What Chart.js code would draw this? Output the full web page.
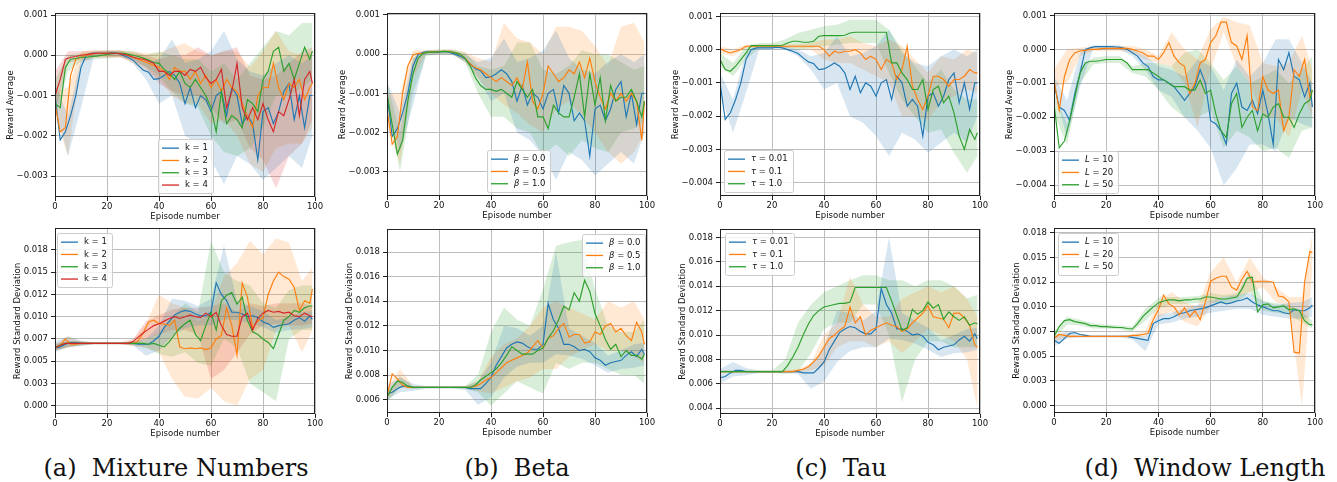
<!DOCTYPE html>
<html>
<head>
<meta charset="utf-8">
<script src="https://cdn.jsdelivr.net/npm/chart.js@4.4.1/dist/chart.umd.min.js"></script>
<style>
  html, body { margin: 0; padding: 0; background: #fff; }
  body { width: 1337px; height: 482px; position: relative; overflow: hidden; }
  canvas { position: absolute; }
  .cap { position: absolute; top: 454px; font-family: "DejaVu Serif", serif; font-size: 24px; line-height: 28px;
         color: #111; white-space: pre; transform: translateX(-50%); }
</style>
</head>
<body>
<div class="cap" style="left:176px">(a)  Mixture Numbers</div>
<div class="cap" style="left:517px">(b)  Beta</div>
<div class="cap" style="left:841px">(c)  Tau</div>
<div class="cap" style="left:1205px">(d)  Window Length</div>
<script>
// all rewards in units of 1e-3
const EP = [0,2,4,6,8,10,12,14,16,18,20,22,24,26,28,30,32,34,36,38,40,42,44,46,48,
  50,52,54,56,58,60,62,64,66,68,70,72,74,76,78,80,82,84,86,88,90,92,94,96,98,99];
const BAND_EP = [0,5,10,15,20,25,30,35,40,45,50,55,60,65,70,75,80,85,90,95,99];

const EP_TICKS = [0, 20, 40, 60, 80, 100];
const AVG_TICKS_3 = [-3, -2, -1, 0, 1];
const AVG_TICKS_4 = [-4, -3, -2, -1, 0, 1];
const STD_TICKS_Q = [0, 2.5, 5, 7.5, 10, 12.5, 15, 17.5];
const STD_LABELS_Q = ['0.000', '0.003', '0.005', '0.007', '0.010', '0.012', '0.015', '0.018'];
const STD_TICKS_B = [6, 8, 10, 12, 14, 16, 18];
const STD_TICKS_C = [4, 6, 8, 10, 12, 14, 16, 18];

const K_LABELS = ['1', '2', '3', '4'];
const BETA_LABELS = ['0.0', '0.5', '1.0'];
const TAU_LABELS = ['0.01', '0.1', '1.0'];
const L_LABELS = ['10', '20', '50'];

// ---- reward average (top row) ----
const BASE_AVG = [-1.0,-2.1,-1.9,-1.5,-1.0,-0.3,0.0,0.05,0.05,0.05,
  0.05,0.07,0.05,0.0,-0.05,-0.12,-0.25,-0.37,-0.42,-0.6,
  -0.58,-0.5,-0.4,-0.5,-0.7,-1.2,-0.8,-1.3,-1.0,-1.1,
  -1.4,-1.0,-0.9,-1.5,-0.8,-1.0,-1.7,-1.5,-1.7,-2.6,
  -1.4,-1.3,-1.7,-1.4,-0.9,-0.7,-1.6,-1.0,-1.8,-1.0,-1.0];
const BASE_AVG_LO = [-1.3,-2.5,-1.3,-0.02,0.0,0.0,-0.2,-0.6,-1.2,-1.0,-2.0,-2.2,-2.6,-3.2,-2.5,-2.7,-3.1,-2.8,-2.5,-2.8,-2.0];
const BASE_AVG_HI = [-0.7,-1.5,-0.1,0.1,0.1,0.1,0.0,-0.2,-0.1,0.4,-0.2,-0.1,0.1,0.6,-0.1,-0.4,-0.5,-0.2,0.0,-0.2,0.0];

const K2_AVG = [-1.2,-1.9,-1.8,-0.5,-0.1,-0.05,0.0,0.03,0.05,0.05,
  0.05,0.05,0.05,0.03,0.0,-0.05,-0.1,-0.15,-0.2,-0.25,
  -0.3,-0.4,-0.6,-0.3,-0.4,-0.4,-0.6,-0.4,-0.7,-0.5,
  -0.8,-0.6,-0.9,-0.6,-0.8,-0.9,-1.2,-1.5,-1.8,-1.0,
  -0.8,-0.8,-0.2,-0.8,-1.1,-0.7,-0.8,-0.6,-1.1,-0.8,-0.7];
const K2_AVG_LO = [-1.5,-2.5,-0.2,-0.05,-0.05,-0.05,-0.2,-0.4,-0.6,-1.0,-1.2,-1.2,-1.7,-1.6,-2.0,-2.7,-2.9,-2.3,-2.2,-2.2,-1.8];
const K2_AVG_HI = [-0.9,-0.8,0.1,0.12,0.12,0.12,0.1,0.05,0.05,0.2,0.3,0.1,0.0,0.1,0.1,-0.3,0.1,0.6,0.1,0.0,0.1];

const K3_AVG = [-1.2,-1.3,-0.3,-0.1,-0.08,-0.05,-0.05,-0.03,-0.02,0.0,
  0.02,0.04,0.05,0.05,0.03,0.0,-0.03,-0.07,-0.12,-0.18,
  -0.2,-0.35,-0.45,-0.6,-0.4,-0.7,-0.8,-0.6,-0.8,-1.0,
  -1.3,-1.9,-0.9,-1.7,-1.5,-1.6,-1.8,-1.1,-1.2,-1.4,
  -0.6,-0.4,0.1,0.2,-0.4,-0.2,-0.6,-0.2,0.2,-0.1,0.1];
const K3_AVG_LO = [-1.6,-0.4,-0.15,-0.1,-0.08,-0.05,-0.1,-0.3,-0.5,-0.9,-1.2,-1.3,-2.0,-2.4,-2.5,-2.3,-1.8,-1.0,-1.0,-0.8,-0.6];
const K3_AVG_HI = [-0.6,0.0,0.05,0.08,0.12,0.12,0.1,0.0,0.1,0.0,-0.1,-0.1,-0.4,-0.2,-0.6,-0.2,0.2,0.6,0.5,0.8,0.8];

const K4_AVG = [-1.0,-0.6,-0.1,-0.05,-0.03,0.0,0.02,0.04,0.05,0.05,
  0.05,0.05,0.05,0.03,0.0,-0.05,-0.08,-0.1,-0.15,-0.2,
  -0.4,-0.4,-0.5,-0.4,-0.4,-0.5,-0.35,-0.4,-0.3,-0.55,
  -0.7,-0.6,-0.35,-1.3,-0.9,-0.2,-1.3,-1.6,-1.3,-1.6,
  -1.2,-1.6,-1.9,-1.4,-1.5,-1.1,-0.6,-1.5,-0.6,-0.4,-0.7];
const K4_AVG_LO = [-1.4,-0.2,-0.1,-0.05,-0.05,-0.05,-0.15,-0.3,-0.7,-0.9,-1.0,-1.0,-1.3,-1.7,-1.6,-2.3,-2.6,-3.3,-2.5,-2.2,-1.6];
const K4_AVG_HI = [-0.4,0.1,0.1,0.12,0.12,0.12,0.05,0.0,-0.1,0.0,0.0,0.2,0.0,0.1,0.2,-0.5,-0.6,-0.5,-0.2,0.1,0.2];

const BETA05_AVG = [-1.4,-2.3,-2.1,-1.0,-0.3,-0.02,0.02,0.03,0.05,0.06,
  0.06,0.07,0.07,0.04,0.0,-0.1,-0.25,-0.35,-0.4,-0.5,
  -0.6,-0.7,-0.6,-0.7,-0.8,-0.6,-0.9,-0.2,-1.2,-1.4,
  -1.0,-0.3,-0.5,-0.7,-0.6,-0.4,-0.5,-0.2,-0.6,-0.1,
  -0.7,-1.1,-1.4,-1.0,-1.2,-1.0,-1.2,-1.0,-1.2,-2.2,-1.2];
const BETA05_AVG_LO = [-1.8,-2.8,-0.6,0.0,0.0,0.0,-0.2,-0.6,-1.0,-1.3,-1.5,-1.8,-2.0,-1.4,-1.2,-1.6,-2.0,-2.5,-2.8,-2.5,-2.0];
const BETA05_AVG_HI = [-1.0,-1.0,0.1,0.1,0.12,0.12,0.05,-0.1,-0.2,0.8,0.4,0.3,0.0,0.7,0.7,0.6,0.2,-0.3,0.7,0.8,0.3];

const BETA10_AVG = [-1.0,-1.8,-2.55,-2.2,-1.2,-0.5,-0.1,0.02,0.05,0.05,
  0.06,0.07,0.06,0.04,0.0,-0.1,-0.3,-0.6,-0.8,-0.9,
  -0.9,-0.95,-0.9,-1.0,-1.1,-0.7,-0.9,-1.1,-0.9,-1.6,
  -1.6,-1.9,-1.3,-1.5,-1.6,-1.6,-1.1,-0.5,-1.6,-0.5,
  -1.3,-0.6,-1.7,-0.8,-1.2,-1.1,-1.1,-0.9,-1.2,-1.6,-1.2];
const BETA10_AVG_LO = [-1.3,-3.0,-1.0,-0.05,0.0,0.0,-0.2,-1.0,-1.6,-1.6,-1.9,-2.0,-2.6,-2.3,-2.6,-2.2,-2.4,-2.5,-2.0,-1.9,-1.7];
const BETA10_AVG_HI = [-0.7,-2.0,-0.1,0.1,0.12,0.12,0.05,-0.3,-0.4,-0.3,0.3,0.3,-0.4,-0.5,-0.3,0.1,0.0,0.0,-0.2,-0.4,-0.3];

const TAU01_AVG = [0.03,-0.05,-0.1,-0.05,0.0,0.1,0.1,0.1,0.1,0.1,
  0.1,0.1,0.1,0.1,0.1,0.1,0.1,0.1,0.1,0.1,
  0.0,-0.2,-0.05,-0.1,-0.05,-0.05,0.0,-0.1,-0.3,-0.2,
  -0.3,-0.6,-0.3,-0.4,-0.9,-0.6,0.1,-1.1,-1.5,-1.8,
  -1.4,-0.8,-0.8,-0.9,-1.1,-0.9,-0.9,-0.8,-0.6,-0.7,-0.7];
const TAU01_AVG_LO = [-0.1,-0.2,0.05,0.05,0.05,0.05,0.05,0.0,-0.3,-0.4,-0.4,-0.6,-0.8,-1.0,-2.0,-2.0,-2.1,-1.6,-1.4,-1.2,-1.3];
const TAU01_AVG_HI = [0.1,0.0,0.15,0.15,0.15,0.15,0.15,0.2,0.3,0.3,0.4,0.2,0.1,0.3,0.1,-0.3,-0.7,-0.2,-0.3,0.0,-0.1];

const TAU10_AVG = [-0.3,-0.6,-0.65,-0.5,-0.3,-0.1,0.12,0.12,0.12,0.12,
  0.12,0.12,0.13,0.2,0.25,0.25,0.22,0.22,0.25,0.4,
  0.42,0.42,0.42,0.42,0.43,0.5,0.52,0.52,0.52,0.52,
  0.52,0.52,0.52,-0.4,-0.4,-0.7,-0.9,-1.2,-1.2,-0.9,
  -1.8,-1.2,-1.1,-1.6,-1.4,-1.9,-2.6,-3.0,-2.4,-2.7,-2.5];
const TAU10_AVG_LO = [-0.5,-0.8,-0.3,0.05,0.05,0.05,0.0,0.05,0.1,0.15,0.2,0.2,0.2,-0.7,-1.5,-2.0,-2.5,-2.4,-3.1,-3.7,-3.2];
const TAU10_AVG_HI = [-0.1,-0.4,0.1,0.2,0.2,0.3,0.5,0.6,0.7,0.75,0.9,0.9,0.9,0.6,0.0,-0.5,-1.0,-0.6,-1.2,-1.5,-1.5];

const L10_AVG = [-1.0,-1.7,-1.8,-2.1,-1.3,-0.7,0.0,0.05,0.08,0.08,
  0.08,0.08,0.07,0.05,0.0,-0.1,-0.2,-0.4,-0.5,-0.8,
  -0.9,-0.9,-1.0,-1.1,-1.3,-1.5,-1.3,-1.1,-0.6,-1.0,
  -2.1,-2.2,-2.4,-2.8,-1.3,-1.0,-1.7,-1.8,-1.5,-1.9,
  -1.2,-1.9,-2.8,-0.3,-0.6,-0.1,-0.8,-0.9,-1.4,-1.0,-1.7];
const L10_AVG_LO = [-1.2,-2.6,-1.1,0.0,0.0,0.0,-0.2,-0.6,-1.2,-1.4,-2.0,-2.4,-2.9,-4.0,-3.5,-2.8,-2.8,-3.0,-2.0,-2.2,-2.3];
const L10_AVG_HI = [-0.8,-1.5,-0.1,0.12,0.12,0.12,0.0,-0.2,-0.5,-0.6,-0.8,-0.3,-0.5,-1.2,-0.3,-0.8,-0.4,0.3,0.3,-0.4,-1.0];

const L20_AVG = [-0.9,-1.8,-0.8,-0.3,-0.1,-0.05,-0.03,0.0,0.0,0.02,
  0.03,0.03,0.03,0.03,0.03,0.0,-0.05,-0.1,-0.2,-0.2,
  -0.3,-0.1,0.2,-0.2,-0.4,-0.5,-1.3,-1.0,-0.4,-0.3,
  0.2,0.4,0.8,0.8,0.2,0.1,-0.3,0.4,-1.7,-1.8,
  -0.8,-1.2,-1.3,-1.2,-2.4,-2.0,-0.6,-0.8,-0.3,-1.4,-1.2];
const L20_AVG_LO = [-1.1,-1.0,-0.2,-0.05,-0.05,-0.05,-0.1,-0.3,-0.4,-0.5,-1.0,-2.3,-0.6,0.5,-0.5,-1.0,-2.0,-2.0,-2.6,-1.2,-2.0];
const L20_AVG_HI = [-0.6,0.0,0.05,0.1,0.1,0.1,0.1,0.0,-0.2,0.5,0.0,-0.3,0.6,0.95,0.8,0.7,-0.4,-0.5,-0.4,0.4,-0.6];

const L50_AVG = [-1.6,-2.9,-2.7,-2.1,-1.4,-0.7,-0.4,-0.35,-0.35,-0.33,
  -0.3,-0.3,-0.3,-0.3,-0.4,-0.6,-0.6,-0.6,-0.6,-0.7,
  -0.8,-0.9,-1.0,-1.1,-1.1,-1.1,-1.2,-1.2,-0.9,-1.3,
  -1.2,-1.9,-2.4,-2.6,-1.6,-1.3,-2.3,-2.0,-1.8,-2.4,
  -1.9,-2.0,-1.7,-1.6,-2.0,-2.0,-2.3,-1.9,-1.6,-1.5,-1.2];
const L50_AVG_LO = [-1.9,-2.8,-1.0,-0.45,-0.4,-0.4,-0.7,-0.8,-1.2,-1.7,-2.0,-2.0,-1.8,-2.9,-2.4,-2.6,-3.0,-2.9,-3.2,-2.4,-2.3];
const L50_AVG_HI = [-1.3,-2.2,-0.5,-0.25,-0.2,-0.2,-0.5,-0.4,-0.4,-0.5,-0.1,0.0,-0.4,-0.9,-0.5,-1.0,-0.8,-0.6,-1.0,-0.6,-0.2];

// ---- reward standard deviation (bottom row) ----
const BASE_STD = [6.5,6.6,6.9,7.1,7.1,7.0,7.0,7.0,7.0,7.0,
  7.0,7.0,7.0,7.0,7.0,7.0,6.9,6.9,6.9,7.3,
  7.8,8.8,9.5,10.2,10.5,10.7,10.6,10.3,10.1,10.1,
  10.5,13.8,12.5,11.8,10.5,10.5,10.3,10.0,10.1,9.9,
  9.4,9.2,8.8,9.0,9.1,9.2,9.6,9.9,9.5,10.1,9.7];
const BASE_STD_LO = [6.0,6.6,6.7,6.9,6.9,6.9,6.8,5.6,6.2,7.8,8.7,9.0,9.0,9.7,9.6,9.3,8.8,8.2,8.5,8.6,8.8];
const BASE_STD_HI = [7.2,7.8,7.3,7.1,7.1,7.1,7.1,7.5,9.0,12.0,11.8,11.2,12.0,18.0,11.8,11.2,10.6,9.6,10.0,10.5,10.6];

const K2_STD = [6.5,6.8,7.5,6.9,6.9,7.0,7.0,7.0,7.0,7.0,
  7.0,7.0,7.0,7.0,7.0,7.0,7.3,8.2,9.4,9.6,
  9.2,9.2,9.0,9.6,6.6,6.4,6.5,6.4,6.5,6.3,
  6.5,7.5,7.9,11.0,9.0,5.7,13.8,12.2,8.8,9.5,
  9.9,12.5,14.0,15.0,14.5,14.2,13.3,10.7,11.8,11.5,13.1];
const K2_STD_LO = [6.2,6.5,6.8,6.9,6.9,6.9,6.7,6.5,6.0,3.0,1.0,0.8,2.0,0.5,0.0,3.0,4.0,8.5,9.0,6.0,8.5];
const K2_STD_HI = [6.9,7.8,7.2,7.1,7.1,7.1,7.3,9.2,12.5,11.5,11.0,9.5,10.5,14.5,16.0,18.5,17.0,18.8,18.3,14.0,15.5];

const K3_STD = [6.5,6.8,7.0,7.0,7.0,7.0,7.0,7.0,7.0,7.0,
  7.0,7.0,7.0,7.0,7.0,7.0,7.0,7.0,6.9,7.0,
  6.8,6.6,7.2,8.0,8.7,9.2,9.6,8.0,7.3,9.0,
  10.5,8.5,11.8,12.4,12.7,11.4,12.2,9.6,8.3,8.0,
  7.5,7.1,6.4,8.0,9.6,10.0,10.7,10.5,11.0,11.2,11.2];
const K3_STD_LO = [6.2,6.6,6.8,6.9,6.9,6.9,6.8,6.5,5.8,5.5,6.0,4.8,4.5,7.5,6.5,2.5,1.5,0.5,7.5,8.5,8.5];
const K3_STD_HI = [6.9,7.3,7.2,7.1,7.1,7.1,7.2,7.5,8.2,10.0,11.5,10.5,18.5,15.0,14.0,13.5,11.5,11.0,13.0,13.5,13.5];

const K4_STD = [6.5,6.8,7.0,7.0,7.0,7.0,7.0,7.0,7.0,7.0,
  7.0,7.0,7.0,7.0,7.0,7.2,7.7,8.2,8.6,9.0,
  9.2,9.5,9.8,10.0,9.8,10.0,10.2,10.0,9.9,10.4,
  10.0,10.5,9.0,8.0,7.8,7.8,10.0,10.4,8.5,9.8,
  10.4,10.7,10.5,10.6,10.4,10.5,10.1,10.0,10.4,10.1,10.0];
const K4_STD_LO = [6.2,6.6,6.8,6.9,6.9,6.9,6.8,7.5,8.0,8.5,8.5,8.0,3.0,4.0,6.0,8.0,9.0,9.2,9.0,9.0,9.2];
const K4_STD_HI = [6.9,7.3,7.2,7.1,7.1,7.1,7.5,9.5,10.2,10.8,11.0,11.0,11.2,11.5,10.5,11.5,11.2,11.5,11.5,11.5,11.2];

const BETA05_STD = [6.3,8.1,7.7,7.2,7.0,7.0,7.0,7.0,7.0,7.0,
  7.0,7.0,7.0,7.0,7.0,7.0,7.0,7.1,7.3,7.6,
  7.8,8.2,8.6,9.0,9.2,9.4,9.6,9.8,10.3,10.8,
  10.2,11.0,11.2,11.8,12.2,11.1,11.3,11.3,10.6,10.7,
  11.5,11.3,12.0,12.2,11.5,11.8,11.2,10.8,12.3,11.5,10.5];
const BETA05_STD_LO = [6.0,7.0,6.9,6.95,6.95,6.95,6.9,6.7,6.5,7.0,7.5,7.8,8.5,8.5,9.5,10.0,10.5,10.0,10.0,9.5,9.0];
const BETA05_STD_HI = [6.8,8.5,7.1,7.05,7.05,7.05,7.1,7.5,9.5,10.5,11.0,12.0,13.5,14.0,13.5,13.0,12.5,14.0,13.5,14.0,12.5];

const BETA10_STD = [6.2,7.0,7.5,7.4,7.1,7.0,7.0,7.0,7.0,7.0,
  7.0,7.0,7.0,7.0,7.0,7.0,7.0,7.2,7.6,7.9,
  8.2,8.5,9.0,9.6,10.3,10.0,9.7,9.7,9.7,10.0,
  10.2,11.0,11.6,12.5,13.6,13.3,14.7,14.0,15.7,14.8,
  13.0,12.0,10.9,10.1,10.5,9.5,10.0,9.6,9.6,9.3,9.7];
const BETA10_STD_LO = [5.8,7.0,6.9,6.95,6.95,6.95,6.9,6.6,5.5,6.5,7.5,7.0,6.5,9.0,8.5,9.0,9.0,8.5,8.0,8.0,7.3];
const BETA10_STD_HI = [6.6,7.9,7.1,7.05,7.05,7.05,7.1,8.0,11.5,13.5,12.5,12.0,15.0,18.5,18.8,19.0,15.0,12.0,11.5,11.5,12.5];

const TAU01_STD = [7.0,7.0,7.0,7.0,7.0,7.0,7.0,7.0,7.0,7.0,
  7.0,7.0,7.0,7.0,7.0,7.1,7.2,7.4,7.8,8.3,
  9.0,9.7,10.0,10.4,10.7,12.3,11.0,11.5,10.0,10.4,
  10.6,10.8,11.0,10.8,10.7,10.3,10.5,11.0,11.4,11.8,
  12.4,11.5,11.4,11.3,10.6,11.8,11.8,11.4,10.8,9.2,9.0];
const TAU01_STD_LO = [6.9,6.9,6.9,6.9,6.9,6.9,6.9,7.1,7.5,9.0,9.5,9.5,9.0,9.5,8.5,9.5,10.5,10.0,9.5,8.0,4.0];
const TAU01_STD_HI = [7.1,7.1,7.1,7.1,7.1,7.1,7.2,7.7,10.0,11.0,14.8,12.5,11.5,11.5,13.0,13.5,14.0,13.5,14.0,13.0,11.5];

const TAU10_STD = [7.0,7.0,7.0,7.0,7.0,7.0,7.0,7.0,7.0,7.0,
  7.0,7.0,7.0,7.5,8.2,9.0,10.0,10.9,11.6,12.0,
  12.3,12.4,12.5,12.6,12.6,12.7,13.9,13.9,13.9,13.9,
  13.9,13.9,13.9,12.8,11.6,10.4,10.6,12.1,11.7,12.0,
  12.7,12.2,12.5,11.3,11.9,11.5,11.2,11.5,10.8,11.0,10.9];
const TAU10_STD_LO = [6.9,6.9,6.9,6.9,6.9,6.8,7.0,8.5,10.5,11.0,11.0,12.5,12.5,10.0,4.5,8.0,9.5,9.5,9.0,9.0,9.0];
const TAU10_STD_HI = [7.1,7.1,7.1,7.1,7.1,8.0,11.0,12.5,13.5,14.0,14.5,14.9,14.9,14.5,14.5,14.0,14.5,14.5,14.0,13.0,13.3];

const L10_STD = [6.6,6.3,6.8,7.3,7.4,7.2,7.1,7.0,7.0,7.0,
  7.0,7.0,7.0,7.0,7.0,6.9,6.8,6.7,6.6,8.3,
  8.6,8.8,8.8,9.0,9.3,9.4,9.6,9.7,9.8,9.9,
  10.1,10.3,10.5,10.3,10.4,10.6,10.7,10.9,10.5,10.2,
  10.0,9.8,9.6,9.6,9.4,9.3,9.7,9.6,9.6,9.9,10.2];
const L10_STD_LO = [6.0,6.8,6.9,6.9,6.9,6.9,6.7,5.5,8.2,8.4,8.8,9.0,9.4,9.6,9.8,9.8,9.2,9.0,8.8,8.8,9.0];
const L10_STD_HI = [7.0,7.6,7.3,7.1,7.1,7.1,7.1,7.0,9.2,9.4,9.8,10.2,10.6,11.0,11.2,11.4,10.6,10.2,10.4,10.5,11.0];

const L20_STD = [6.8,7.2,7.1,7.0,7.0,7.0,7.0,7.0,7.0,7.0,
  7.0,7.0,7.0,7.0,7.0,7.1,7.1,7.2,7.3,8.7,
  9.7,11.2,10.3,10.0,9.2,9.9,9.0,9.6,8.7,10.5,
  12.6,12.9,13.1,13.1,12.0,11.7,12.8,13.6,12.5,12.6,
  12.6,12.6,12.5,11.1,11.0,10.5,5.4,5.3,12.5,15.6,15.5];
const L20_STD_LO = [6.5,6.9,6.95,6.95,6.95,6.95,6.9,7.0,9.0,9.5,8.5,8.0,10.0,11.0,11.0,11.5,12.0,10.5,10.0,0.0,14.0];
const L20_STD_HI = [7.2,7.3,7.05,7.05,7.05,7.05,7.2,7.6,10.5,11.5,10.5,10.0,13.5,15.0,12.5,15.0,13.0,12.0,11.0,11.0,17.5];

const L50_STD = [7.0,8.0,8.6,8.7,8.5,8.4,8.3,8.1,8.1,8.0,
  8.0,7.95,7.9,7.9,7.8,7.75,8.3,9.0,9.5,10.0,
  10.4,10.6,10.7,10.7,10.6,10.7,10.7,10.8,10.8,11.0,
  11.0,10.9,10.8,10.8,10.9,11.0,11.8,12.9,13.0,9.5,
  10.2,10.3,9.9,10.0,10.1,9.7,9.8,9.6,8.6,8.2,8.2];
const L50_STD_LO = [6.6,8.2,8.1,7.8,7.8,7.7,7.5,8.6,9.8,10.3,10.3,10.4,10.5,10.3,10.5,11.5,9.6,9.4,9.2,8.4,7.8];
const L50_STD_HI = [7.5,9.0,8.7,8.3,8.2,8.1,8.0,9.8,10.9,11.0,11.0,11.1,11.4,11.2,11.4,13.5,10.6,10.4,10.2,9.5,8.6];

const COLORS = ['#1f77b4', '#ff7f0e', '#2ca02c', '#d62728'];
const FONT = 'DejaVu Sans';
const PAD_L = 55, PAD_T = 12, PAD_R = 14, PAD_B = 32;

function fade(hex, a) {
  const n = parseInt(hex.slice(1), 16);
  return `rgba(${n >> 16},${(n >> 8) & 255},${n & 255},${a})`;
}
const milli = v => (v < 0 ? '\u2212' : '') + (Math.abs(v) / 1000).toFixed(3);
const quarter = v => STD_LABELS_Q[STD_TICKS_Q.indexOf(v)];

const PANELS = [
  { box: [55, 13, 315, 197], yr: [-3.52, 1.05], ticks: AVG_TICKS_3, fmt: milli, title: 'Reward Average', tpad: 6,
    series: [BASE_AVG, K2_AVG, K3_AVG, K4_AVG], lo: [BASE_AVG_LO, K2_AVG_LO, K3_AVG_LO, K4_AVG_LO],
    hi: [BASE_AVG_HI, K2_AVG_HI, K3_AVG_HI, K4_AVG_HI], sym: 'k', italic: false, labels: K_LABELS, leg: [158, 139] },
  { box: [387, 13, 647, 196], yr: [-3.62, 1.05], ticks: AVG_TICKS_3, fmt: milli, title: 'Reward Average', tpad: 6,
    series: [BASE_AVG, BETA05_AVG, BETA10_AVG], lo: [BASE_AVG_LO, BETA05_AVG_LO, BETA10_AVG_LO],
    hi: [BASE_AVG_HI, BETA05_AVG_HI, BETA10_AVG_HI], sym: '\u03b2', italic: true, labels: BETA_LABELS, leg: [487, 150] },
  { box: [720, 13, 980, 196], yr: [-4.4, 1.1], ticks: AVG_TICKS_4, fmt: milli, title: 'Reward Average', tpad: 6,
    series: [BASE_AVG, TAU01_AVG, TAU10_AVG], lo: [BASE_AVG_LO, TAU01_AVG_LO, TAU10_AVG_LO],
    hi: [BASE_AVG_HI, TAU01_AVG_HI, TAU10_AVG_HI], sym: '\u03c4', italic: true, labels: TAU_LABELS, leg: [724, 150] },
  { box: [1054, 13, 1315, 196], yr: [-4.32, 1.07], ticks: AVG_TICKS_4, fmt: milli, title: 'Reward Average', tpad: 6,
    series: [L10_AVG, L20_AVG, L50_AVG], lo: [L10_AVG_LO, L20_AVG_LO, L50_AVG_LO],
    hi: [L10_AVG_HI, L20_AVG_HI, L50_AVG_HI], sym: 'L', italic: true, labels: L_LABELS, leg: [1058, 151] },
  { box: [55, 228, 315, 414], yr: [-0.93, 19.96], ticks: STD_TICKS_Q, fmt: quarter, title: 'Reward Standard Deviation', tpad: 13,
    series: [BASE_STD, K2_STD, K3_STD, K4_STD], lo: [BASE_STD_LO, K2_STD_LO, K3_STD_LO, K4_STD_LO],
    hi: [BASE_STD_HI, K2_STD_HI, K3_STD_HI, K4_STD_HI], sym: 'k', italic: false, labels: K_LABELS, leg: [57, 233] },
  { box: [387, 229, 647, 413], yr: [4.92, 19.87], ticks: STD_TICKS_B, fmt: milli, title: 'Reward Standard Deviation', tpad: 13,
    series: [BASE_STD, BETA05_STD, BETA10_STD], lo: [BASE_STD_LO, BETA05_STD_LO, BETA10_STD_LO],
    hi: [BASE_STD_HI, BETA05_STD_HI, BETA10_STD_HI], sym: '\u03b2', italic: true, labels: BETA_LABELS, leg: [582, 234] },
  { box: [720, 229, 980, 414], yr: [3.53, 18.69], ticks: STD_TICKS_C, fmt: milli, title: 'Reward Standard Deviation', tpad: 13,
    series: [BASE_STD, TAU01_STD, TAU10_STD], lo: [BASE_STD_LO, TAU01_STD_LO, TAU10_STD_LO],
    hi: [BASE_STD_HI, TAU01_STD_HI, TAU10_STD_HI], sym: '\u03c4', italic: true, labels: TAU_LABELS, leg: [725, 233] },
  { box: [1054, 228, 1315, 413], yr: [-0.77, 18.0], ticks: STD_TICKS_Q, fmt: quarter, title: 'Reward Standard Deviation', tpad: 13,
    series: [L10_STD, L20_STD, L50_STD], lo: [L10_STD_LO, L20_STD_LO, L50_STD_LO],
    hi: [L10_STD_HI, L20_STD_HI, L50_STD_HI], sym: 'L', italic: true, labels: L_LABELS, leg: [1058, 233] }
];

// black frame round the plot area
const framePlugin = {
  id: 'frame',
  afterDatasetsDraw(chart) {
    const a = chart.chartArea, ctx = chart.ctx;
    ctx.save();
    ctx.strokeStyle = '#222';
    ctx.lineWidth = 1;
    ctx.strokeRect(a.left + 0.5, a.top + 0.5, a.right - a.left - 1, a.bottom - a.top - 1);
    ctx.restore();
  }
};

// matplotlib style legend box inside the axes
const boxLegend = {
  id: 'boxLegend',
  afterDraw(chart, args, o) {
    const ctx = chart.ctx;
    const fN = `8.5px "${FONT}"`, fS = (o.italic ? 'italic ' : '') + fN;
    ctx.save();
    ctx.font = fS;
    const sw = ctx.measureText(o.sym).width;
    ctx.font = fN;
    let tw = 0;
    o.labels.forEach(t => { tw = Math.max(tw, ctx.measureText(' = ' + t).width); });
    const rowH = 12.3, pad = 2.5;
    const x = o.x, y = o.y, w = Math.round(27 + sw + tw + 5), h = Math.round(o.labels.length * rowH + 2 * pad);
    ctx.beginPath();
    if (ctx.roundRect) ctx.roundRect(x + 0.5, y + 0.5, w, h, 2); else ctx.rect(x + 0.5, y + 0.5, w, h);
    ctx.fillStyle = 'rgba(255,255,255,0.8)';
    ctx.fill();
    ctx.strokeStyle = '#cccccc';
    ctx.lineWidth = 1;
    ctx.stroke();
    ctx.textBaseline = 'middle';
    o.labels.forEach((t, i) => {
      const cy = y + pad + rowH * (i + 0.5) + 0.5;
      ctx.strokeStyle = COLORS[i];
      ctx.lineWidth = 1.3;
      ctx.beginPath();
      ctx.moveTo(x + 4, cy);
      ctx.lineTo(x + 21, cy);
      ctx.stroke();
      ctx.fillStyle = '#111';
      ctx.font = fS;
      ctx.fillText(o.sym, x + 27, cy);
      ctx.font = fN;
      ctx.fillText(' = ' + t, x + 27 + sw, cy);
    });
    ctx.restore();
  }
};

function drawPanel(p) {
  const [l, t, r, b] = p.box;
  const cv = document.createElement('canvas');
  cv.width = r - l + PAD_L + PAD_R;
  cv.height = b - t + PAD_T + PAD_B;
  cv.style.left = (l - PAD_L) + 'px';
  cv.style.top = (t - PAD_T) + 'px';
  document.body.appendChild(cv);

  const datasets = [];
  p.series.forEach((s, i) => {
    datasets.push({
      data: EP.map((x, j) => ({ x, y: s[j] })),
      borderColor: COLORS[i], borderWidth: 1.15, pointRadius: 0, fill: false,
      order: p.series.length - i
    });
  });
  p.series.forEach((s, i) => {
    datasets.push({
      data: BAND_EP.map((x, j) => ({ x, y: p.hi[i][j] })),
      borderColor: 'rgba(0,0,0,0)', borderWidth: 0, pointRadius: 0,
      backgroundColor: fade(COLORS[i], 0.18), fill: '+1', order: 100
    });
    datasets.push({
      data: BAND_EP.map((x, j) => ({ x, y: p.lo[i][j] })),
      borderColor: 'rgba(0,0,0,0)', borderWidth: 0, pointRadius: 0, fill: false, order: 100
    });
  });

  const tickFont = { family: FONT, size: 8.5 };
  const grid = { color: '#bdbdbd', lineWidth: 1, tickLength: 4, tickColor: '#222', tickWidth: 1 };

  new Chart(cv, {
    type: 'line',
    data: { datasets },
    options: {
      responsive: false,
      animation: false,
      devicePixelRatio: 1,
      events: [],
      layout: { padding: { left: 0, top: PAD_T, right: PAD_R, bottom: 0 } },
      scales: {
        x: {
          type: 'linear', min: 0, max: 100, bounds: 'data',
          afterBuildTicks: s => { s.ticks = EP_TICKS.map(v => ({ value: v })); },
          afterFit: s => { s.height = PAD_B; },
          grid, border: { display: false },
          ticks: { color: '#111', font: tickFont, padding: 1, maxRotation: 0, autoSkip: false },
          title: { display: true, text: 'Episode number', color: '#111', font: tickFont, padding: { top: 0, bottom: 7 } }
        },
        y: {
          type: 'linear', min: p.yr[0], max: p.yr[1], bounds: 'data',
          afterBuildTicks: s => { s.ticks = p.ticks.map(v => ({ value: v })); },
          afterFit: s => { s.width = PAD_L; },
          grid, border: { display: false },
          ticks: { color: '#111', font: tickFont, padding: 3, autoSkip: false, callback: v => p.fmt(v) },
          title: { display: true, text: p.title, color: '#111', font: tickFont, padding: { top: p.tpad, bottom: 0 } }
        }
      },
      plugins: {
        legend: { display: false },
        tooltip: { enabled: false },
        boxLegend: { x: p.leg[0] - (l - PAD_L), y: p.leg[1] - (t - PAD_T), sym: p.sym, italic: p.italic, labels: p.labels }
      }
    },
    plugins: [framePlugin, boxLegend]
  });
}

PANELS.forEach(drawPanel);
</script>
</body>
</html>
